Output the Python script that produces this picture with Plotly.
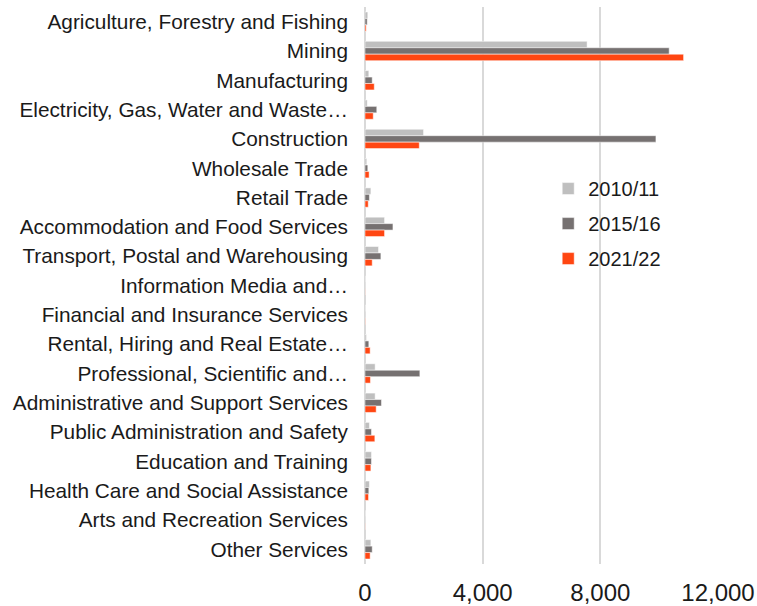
import plotly.graph_objects as go

industries = [
    "Agriculture, Forestry and Fishing",
    "Mining",
    "Manufacturing",
    "Electricity, Gas, Water and Waste…",
    "Construction",
    "Wholesale Trade",
    "Retail Trade",
    "Accommodation and Food Services",
    "Transport, Postal and Warehousing",
    "Information Media and…",
    "Financial and Insurance Services",
    "Rental, Hiring and Real Estate…",
    "Professional, Scientific and…",
    "Administrative and Support Services",
    "Public Administration and Safety",
    "Education and Training",
    "Health Care and Social Assistance",
    "Arts and Recreation Services",
    "Other Services",
]

y2010 = [95, 7550, 130, 75, 1990, 60, 200, 665, 460, 5, 20, 50, 345, 345, 150, 220, 150, 5, 200]
y2015 = [75, 10340, 245, 400, 9890, 95, 150, 950, 540, 5, 10, 130, 1865, 560, 220, 220, 130, 5, 245]
y2021 = [40, 10830, 315, 280, 1845, 140, 110, 665, 245, 5, 10, 175, 185, 380, 335, 200, 120, 5, 175]

series = [
    ("2010/11", y2010, "#BFBFBF"),
    ("2015/16", y2015, "#767171"),
    ("2021/22", y2021, "#FF4612"),
]

x_ticks = [0, 4000, 8000, 12000]
x_tick_text = ["0", "4,000", "8,000", "12,000"]

font_family = "Liberation Sans, Arial, sans-serif"

fig = go.Figure()
for name, vals, color in series:
    fig.add_trace(go.Bar(
        y=industries,
        x=vals,
        name=name,
        orientation="h",
        legendgroup=name,
        marker=dict(color=color, line=dict(color="white", width=0.5)),
    ))

fig.update_layout(
    width=757,
    height=606,
    margin=dict(l=365, r=39, t=7, b=42),
    paper_bgcolor="white",
    plot_bgcolor="white",
    barmode="group",
    bargap=0.34,
    bargroupgap=0,
    font=dict(family=font_family, color="#1a1a1a"),
    showlegend=True,
    legend=dict(
        x=0.519, y=0.709, xanchor="left", yanchor="top",
        font=dict(size=20, family=font_family, color="#1a1a1a"),
        traceorder="grouped",
        tracegroupgap=6,
        bgcolor="rgba(255,255,255,0)",
    ),
)

fig.update_xaxes(
    range=[0, 12000],
    tickvals=x_ticks,
    ticktext=x_tick_text,
    showgrid=True,
    gridcolor="#D9D9D9",
    gridwidth=1.5,
    zeroline=True,
    zerolinecolor="#D9D9D9",
    zerolinewidth=1.5,
    showline=False,
    ticks="",
    ticklabelstandoff=12,
    tickfont=dict(size=24, family=font_family, color="#1a1a1a"),
    automargin=False,
)

fig.update_yaxes(
    categoryorder="array",
    categoryarray=industries,
    autorange="reversed",
    showgrid=False,
    zeroline=False,
    showline=False,
    ticks="",
    ticklabelstandoff=16,
    tickfont=dict(size=20.8, family=font_family, color="#1a1a1a"),
    automargin=False,
)

fig.write_html("out.html")
